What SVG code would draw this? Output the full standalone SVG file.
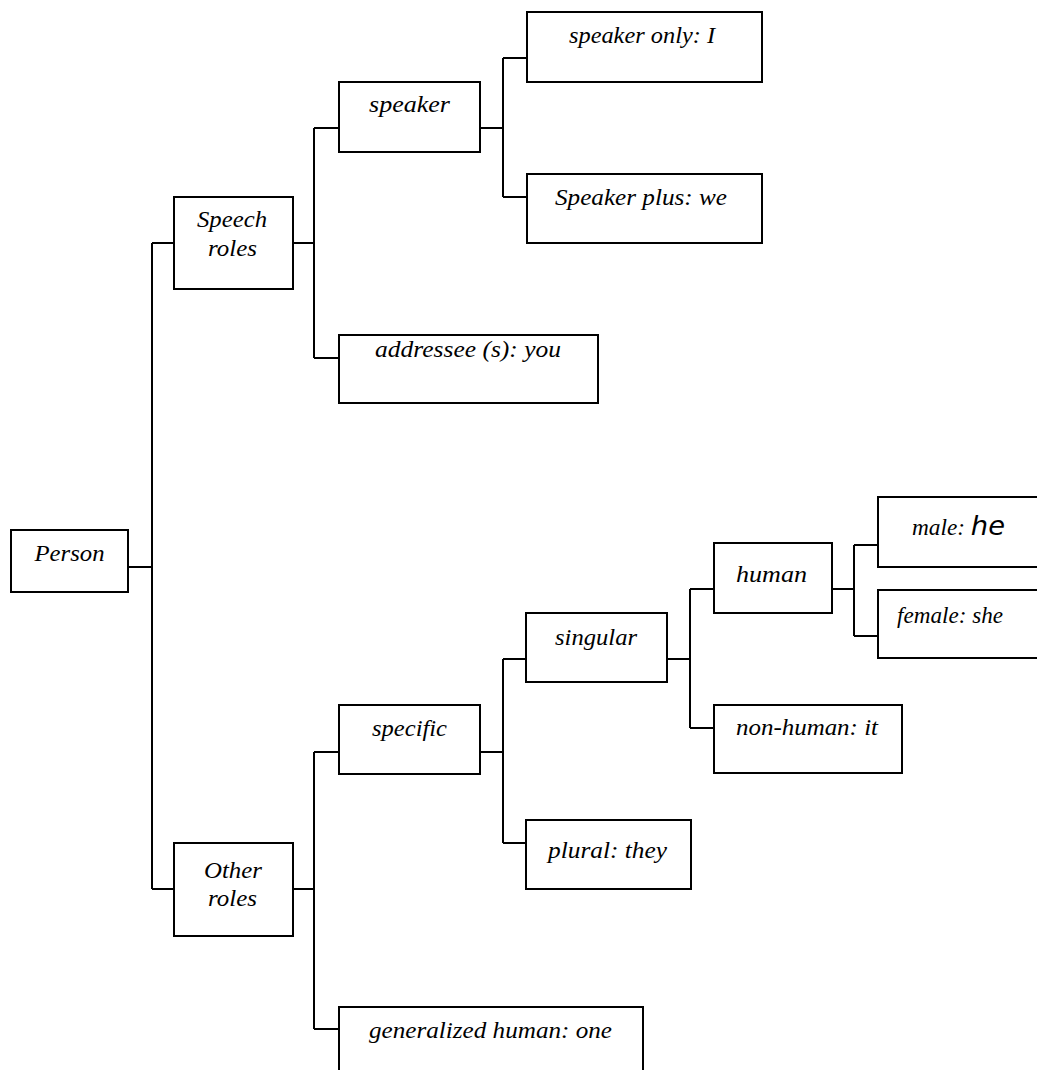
<svg xmlns="http://www.w3.org/2000/svg" width="1037" height="1070" viewBox="0 0 1037 1070">
<style>
rect.n{fill:#fff;stroke:#000;stroke-width:2}
text{font-family:"Liberation Serif","Times New Roman",serif;font-style:italic;font-size:23px;fill:#000;text-anchor:middle}
.c{fill:none;stroke:#000;stroke-width:2}
</style>
<rect width="1037" height="1070" fill="#fff"/>
<g id="connectors">
<path class="c" d="M128,567H152M152,243V889M152,243H174M152,889H174"/>
<path class="c" d="M293,243H314M314,128V358M314,128H339M314,358H339"/>
<path class="c" d="M480,128H503M503,58V197M503,58H527M503,197H527"/>
<path class="c" d="M293,889H314M314,752V1029M314,752H339M314,1029H339"/>
<path class="c" d="M480,752H503M503,659V843M503,659H526M503,843H526"/>
<path class="c" d="M667,659H690M690,589V728M690,589H714M690,728H714"/>
<path class="c" d="M832,589H854M854,545V636M854,545H878M854,636H878"/>
</g>
<g id="person"><rect class="n" x="11" y="530" width="117" height="62"/><text x="69.5" y="561" textLength="70" lengthAdjust="spacingAndGlyphs">Person</text></g>
<g id="speech-roles"><rect class="n" x="174" y="197" width="119" height="92"/><text x="232" y="227" textLength="70" lengthAdjust="spacingAndGlyphs">Speech</text><text x="232.5" y="256" textLength="49" lengthAdjust="spacingAndGlyphs">roles</text></g>
<g id="speaker"><rect class="n" x="339" y="82" width="141" height="70"/><text x="409.5" y="112" textLength="81" lengthAdjust="spacingAndGlyphs">speaker</text></g>
<g id="speaker-only"><rect class="n" x="527" y="12" width="235" height="70"/><text x="642" y="43" textLength="146" lengthAdjust="spacingAndGlyphs">speaker only: I</text></g>
<g id="speaker-plus"><rect class="n" x="527" y="174" width="235" height="69"/><text x="641" y="205" textLength="172" lengthAdjust="spacingAndGlyphs">Speaker plus: we</text></g>
<g id="addressee"><rect class="n" x="339" y="335" width="259" height="68"/><text x="468" y="357" textLength="186" lengthAdjust="spacingAndGlyphs">addressee (s): you</text></g>
<g id="other-roles"><rect class="n" x="174" y="843" width="119" height="93"/><text x="233" y="878" textLength="58" lengthAdjust="spacingAndGlyphs">Other</text><text x="232.5" y="906" textLength="49" lengthAdjust="spacingAndGlyphs">roles</text></g>
<g id="generalized"><rect class="n" x="339" y="1007" width="304" height="80"/><text x="490.5" y="1038" textLength="243" lengthAdjust="spacingAndGlyphs">generalized human: one</text></g>
<g id="specific"><rect class="n" x="339" y="705" width="141" height="69"/><text x="409.5" y="736" textLength="75" lengthAdjust="spacingAndGlyphs">specific</text></g>
<g id="singular"><rect class="n" x="526" y="613" width="141" height="69"/><text x="596" y="645" textLength="82" lengthAdjust="spacingAndGlyphs">singular</text></g>
<g id="plural"><rect class="n" x="526" y="820" width="165" height="69"/><text x="607.5" y="858" textLength="119" lengthAdjust="spacingAndGlyphs">plural: they</text></g>
<g id="non-human"><rect class="n" x="714" y="705" width="188" height="68"/><text x="807" y="735" textLength="142" lengthAdjust="spacingAndGlyphs">non-human: it</text></g>
<g id="human"><rect class="n" x="714" y="543" width="118" height="70"/><text x="771.5" y="582" textLength="71" lengthAdjust="spacingAndGlyphs">human</text></g>
<g id="male"><rect class="n" x="878" y="497" width="180" height="70"/><text x="958.5" y="535" textLength="93" lengthAdjust="spacingAndGlyphs">male: <tspan style="font-family:'DejaVu Sans',sans-serif;font-size:27px">he</tspan></text></g>
<g id="female"><rect class="n" x="878" y="590" width="180" height="68"/><text x="950" y="623" textLength="106" lengthAdjust="spacingAndGlyphs">female: she</text></g>
</svg>
